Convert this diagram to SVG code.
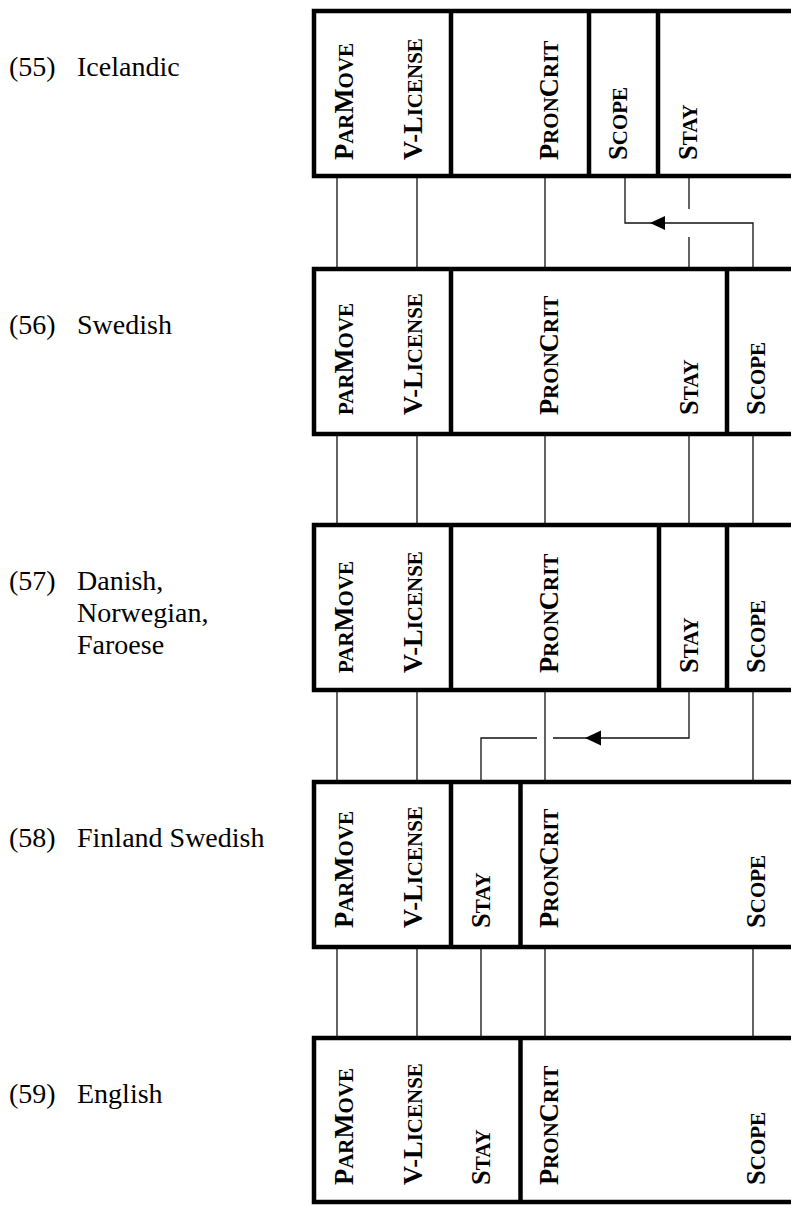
<svg xmlns="http://www.w3.org/2000/svg" width="791" height="1205" viewBox="0 0 791 1205">
<style>
.box{fill:#fff;stroke:#000;stroke-width:4.5}
.div{stroke:#000;stroke-width:4.5}
.con{stroke:#111;stroke-width:1.3;fill:none}
.lab{font-family:"Liberation Serif","Times New Roman",serif;font-weight:bold;font-size:26.5px;fill:#000}
.sc{font-size:21px}
.lang{font-family:"Liberation Serif","Times New Roman",serif;font-size:28px;fill:#000}
.arr{fill:#000}
</style>
<rect width="791" height="1205" fill="#fff"/>

<g id="connectors">
  <path class="con" d="M337,176V269M417,176V269M545,176V269M689,176V209M689,237V269"/>
  <path class="con" d="M753,269V223H625V176"/>
  <polygon class="arr" points="650,223 665,216 665,230"/>
  <path class="con" d="M337,434V525M417,434V525M545,434V525M689,434V525M753,434V525"/>
  <path class="con" d="M337,690V782M417,690V782M545,690V782M753,690V782"/>
  <path class="con" d="M689,690V738H553M537,738H481V782"/>
  <polygon class="arr" points="585,738 601,730.5 601,745.5"/>
  <path class="con" d="M337,947V1038M417,947V1038M481,947V1038M545,947V1038M753,947V1038"/>
</g>

<g id="ex55">
  <text class="lang" x="9" y="76">(55)<tspan x="77">Icelandic</tspan></text>
  <rect class="box" x="314" y="11" width="500" height="165"/>
  <path class="div" d="M451,11V176M589,11V176M658,11V176"/>
  <text class="lab" transform="translate(353,160) rotate(-90)">P<tspan class="sc">AR</tspan>M<tspan class="sc">OVE</tspan></text>
  <text class="lab" transform="translate(421.5,160) rotate(-90)">V-L<tspan class="sc">ICENSE</tspan></text>
  <text class="lab" transform="translate(558,160) rotate(-90)">P<tspan class="sc">RON</tspan>C<tspan class="sc">RIT</tspan></text>
  <text class="lab" transform="translate(627,160) rotate(-90)">S<tspan class="sc">COPE</tspan></text>
  <text class="lab" transform="translate(697,160) rotate(-90)">S<tspan class="sc">TAY</tspan></text>
</g>

<g id="ex56">
  <text class="lang" x="9" y="334">(56)<tspan x="77">Swedish</tspan></text>
  <rect class="box" x="314" y="269" width="500" height="165"/>
  <path class="div" d="M451,269V434M727,269V434"/>
  <text class="lab" transform="translate(353,415) rotate(-90)"><tspan class="sc">PAR</tspan>M<tspan class="sc">OVE</tspan></text>
  <text class="lab" transform="translate(421.5,415) rotate(-90)">V-L<tspan class="sc">ICENSE</tspan></text>
  <text class="lab" transform="translate(558,415) rotate(-90)">P<tspan class="sc">RON</tspan>C<tspan class="sc">RIT</tspan></text>
  <text class="lab" transform="translate(698,415) rotate(-90)">S<tspan class="sc">TAY</tspan></text>
  <text class="lab" transform="translate(765,415) rotate(-90)">S<tspan class="sc">COPE</tspan></text>
</g>

<g id="ex57">
  <text class="lang" x="9" y="590">(57)<tspan x="77">Danish,</tspan><tspan x="77" y="622">Norwegian,</tspan><tspan x="77" y="654">Faroese</tspan></text>
  <rect class="box" x="314" y="525" width="500" height="165"/>
  <path class="div" d="M451,525V690M659,525V690M727,525V690"/>
  <text class="lab" transform="translate(353,673) rotate(-90)"><tspan class="sc">PAR</tspan>M<tspan class="sc">OVE</tspan></text>
  <text class="lab" transform="translate(421.5,673) rotate(-90)">V-L<tspan class="sc">ICENSE</tspan></text>
  <text class="lab" transform="translate(558,673) rotate(-90)">P<tspan class="sc">RON</tspan>C<tspan class="sc">RIT</tspan></text>
  <text class="lab" transform="translate(698,673) rotate(-90)">S<tspan class="sc">TAY</tspan></text>
  <text class="lab" transform="translate(765,673) rotate(-90)">S<tspan class="sc">COPE</tspan></text>
</g>

<g id="ex58">
  <text class="lang" x="9" y="847">(58)<tspan x="77">Finland Swedish</tspan></text>
  <rect class="box" x="314" y="782" width="500" height="165"/>
  <path class="div" d="M451,782V947M520.5,782V947"/>
  <text class="lab" transform="translate(353,928) rotate(-90)">P<tspan class="sc">AR</tspan>M<tspan class="sc">OVE</tspan></text>
  <text class="lab" transform="translate(421.5,928) rotate(-90)">V-L<tspan class="sc">ICENSE</tspan></text>
  <text class="lab" transform="translate(490,928) rotate(-90)">S<tspan class="sc">TAY</tspan></text>
  <text class="lab" transform="translate(558,928) rotate(-90)">P<tspan class="sc">RON</tspan>C<tspan class="sc">RIT</tspan></text>
  <text class="lab" transform="translate(765,928) rotate(-90)">S<tspan class="sc">COPE</tspan></text>
</g>

<g id="ex59">
  <text class="lang" x="9" y="1103">(59)<tspan x="77">English</tspan></text>
  <rect class="box" x="314" y="1038" width="500" height="164"/>
  <path class="div" d="M520.5,1038V1202"/>
  <text class="lab" transform="translate(353,1185) rotate(-90)">P<tspan class="sc">AR</tspan>M<tspan class="sc">OVE</tspan></text>
  <text class="lab" transform="translate(421.5,1185) rotate(-90)">V-L<tspan class="sc">ICENSE</tspan></text>
  <text class="lab" transform="translate(490,1185) rotate(-90)">S<tspan class="sc">TAY</tspan></text>
  <text class="lab" transform="translate(558,1185) rotate(-90)">P<tspan class="sc">RON</tspan>C<tspan class="sc">RIT</tspan></text>
  <text class="lab" transform="translate(765,1185) rotate(-90)">S<tspan class="sc">COPE</tspan></text>
</g>
</svg>
